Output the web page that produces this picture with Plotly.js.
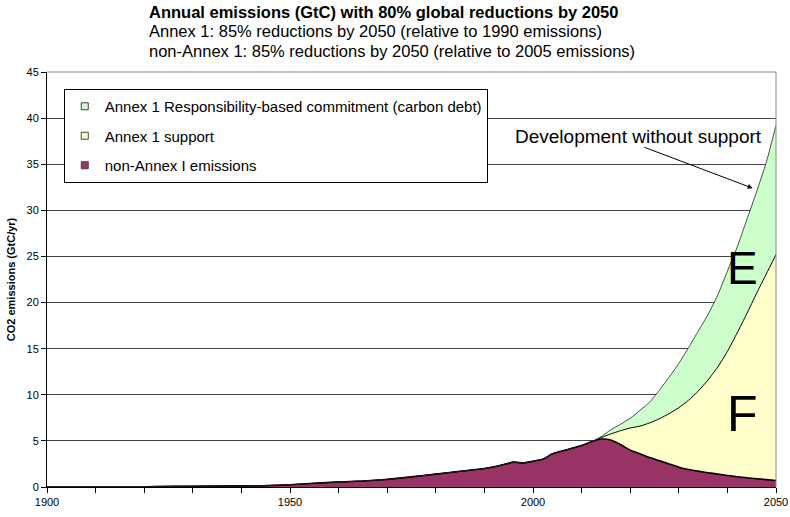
<!DOCTYPE html>
<html>
<head>
<meta charset="utf-8">
<script src="https://cdn.plot.ly/plotly-3.0.1.min.js"></script>
<style>
  html, body { margin: 0; padding: 0; background: #fff; }
  #chart { width: 790px; height: 517px; }
</style>
</head>
<body>
<div id="chart"></div>
<script>
// ---- data ----
const years = [1900,1920,1922,1930,1940,1945,1950,1955,1960,1965,1970,1975,1980,1985,1990,1993,1996,1998,2000,2002,2004,2006,2008,2010,
               2012,2014,2016,2018,2020,2022,2024,2026,2028,2030,2032,2034,2036,2038,2040,2042,2044,2046,2048,2050];
// non-Annex I emissions (GtC/yr)
const nonAnnex = [0,0,0.05,0.08,0.12,0.15,0.25,0.4,0.55,0.65,0.83,1.1,1.4,1.7,2.0,2.3,2.7,2.6,2.8,3.0,3.6,3.9,4.2,4.5,
                  4.9,5.2,5.1,4.6,4.0,3.6,3.2,2.85,2.5,2.15,1.9,1.72,1.55,1.4,1.25,1.12,1.0,0.9,0.8,0.7];
// Annex 1 support band (F)
const support = [0,0,0,0,0,0,0,0,0,0,0,0,0,0,0,0,0,0,0,0,0,0,0,0,
                 0,0.15,0.65,1.5,2.4,3.0,3.75,4.55,5.45,6.45,7.5,8.68,10.05,11.6,13.45,15.58,17.8,20.1,22.3,24.5];
// Annex 1 responsibility-based commitment band (E)
const commitment = [0,0,0,0,0,0,0,0,0,0,0,0,0,0,0,0,0,0,0,0,0,0,0,0,
                    0,0.1,0.45,0.7,1.05,1.7,2.25,3.1,3.95,4.8,5.7,6.5,7.1,7.8,8.7,9.3,10.2,11.0,12.1,14.0];

const seriesNames = ["non-Annex I emissions", "Annex 1 support", "Annex 1 Responsibility-based commitment (carbon debt)"];
const seriesColors = ["#993366", "#FFFFCC", "#CCFFCC"];
const legendRanks = [3, 2, 1];
const xTickVals = [1900,1910,1920,1930,1940,1950,1960,1970,1980,1990,2000,2010,2020,2030,2040,2050];
const xTickText = ["1900","","","","","1950","","","","","2000","","","","","2050"];

const titleLines = [
  "<b>Annual emissions (GtC) with 80% global reductions by 2050</b>",
  "Annex 1: 85% reductions by 2050 (relative to 1990 emissions)",
  "non-Annex 1: 85% reductions by 2050 (relative to 2005 emissions)"
];

const font = "Liberation Sans, Arial, sans-serif";
const lineWidths = [1.6, 1, 0.8];
const lineColors = ["#000", "#000", "#222"];
const vals = [nonAnnex, support, commitment];

const traces = [];
for (let i = 0; i < 3; i++) {
  traces.push({
    x: years, y: vals[i], type: "scatter", mode: "lines",
    stackgroup: "one", fillcolor: seriesColors[i],
    line: {color: lineColors[i], width: lineWidths[i], shape: "spline", smoothing: 0.5},
    showlegend: false, hoverinfo: "skip"
  });
}
// legend-only entries (small squares as in the original)
for (let i = 0; i < 3; i++) {
  traces.push({
    x: [null], y: [null], type: "scatter", mode: "markers",
    name: seriesNames[i], legendgroup: "g" + i, legendrank: legendRanks[i],
    marker: {symbol: "square", size: 7, color: seriesColors[i], line: {color: "#444", width: 1}}
  });
}

const annotations = titleLines.map((t, i) => ({
  text: t, xref: "paper", yref: "paper", x: 0.137, y: 1 + (60 - i * 19.5) / 415,
  xanchor: "left", yanchor: "middle", showarrow: false,
  font: {family: font, size: 16.5, color: "#000"}
}));
annotations.push({
  text: "Development without support", xref: "x", yref: "y", x: 2021.7, y: 38.0,
  xanchor: "center", yanchor: "middle", showarrow: false,
  font: {family: font, size: 19, color: "#000"}
});
annotations.push({
  text: "", xref: "x", yref: "y", x: 2045.2, y: 32.4, axref: "x", ayref: "y", ax: 2022.6, ay: 36.9,
  showarrow: true, arrowhead: 2, arrowsize: 1, arrowwidth: 1, arrowcolor: "#000"
});
annotations.push({
  text: "E", xref: "x", yref: "y", x: 2043.2, y: 23.75, showarrow: false,
  xanchor: "center", yanchor: "middle", font: {family: font, size: 46, color: "#000"}
});
annotations.push({
  text: "F", xref: "x", yref: "y", x: 2043.2, y: 7.9, showarrow: false,
  xanchor: "center", yanchor: "middle", font: {family: font, size: 50, color: "#000"}
});

const layout = {
  width: 790, height: 517,
  margin: {l: 47, r: 14, t: 72, b: 30},
  paper_bgcolor: "#fff", plot_bgcolor: "#fff",
  font: {family: font, size: 11, color: "#000"},
  showlegend: true,
  legend: {
    x: 0.023, y: 0.959, xanchor: "left", yanchor: "top",
    bgcolor: "#fff", bordercolor: "#000", borderwidth: 1,
    font: {family: font, size: 15, color: "#000"},
    traceorder: "grouped", tracegroupgap: 7
  },
  xaxis: {
    range: [1900, 2050], tickmode: "array", tickvals: xTickVals, ticktext: xTickText,
    ticks: "outside", ticklen: 5, tickcolor: "#000", showline: true, linecolor: "#000", linewidth: 1,
    showgrid: false, zeroline: false, tickfont: {family: font, size: 11, color: "#000"}, fixedrange: true
  },
  yaxis: {
    range: [0, 45], dtick: 5, ticks: "outside", ticklen: 5, tickcolor: "#000",
    showline: true, linecolor: "#000", linewidth: 1,
    showgrid: true, gridcolor: "#444", gridwidth: 1, zeroline: false,
    tickfont: {family: font, size: 11, color: "#000"},
    title: {text: "<b>CO2 emissions (GtC/yr)</b>", font: {family: font, size: 11, color: "#000"}, standoff: 8},
    fixedrange: true
  },
  shapes: [
    {type: "line", xref: "paper", yref: "paper", x0: 1, x1: 1, y0: 0, y1: 1, line: {color: "#888", width: 1}},
    {type: "line", xref: "paper", yref: "paper", x0: 0, x1: 1, y0: 1, y1: 1, line: {color: "#888", width: 1}}
  ],
  annotations: annotations
};

Plotly.newPlot("chart", traces, layout, {displayModeBar: false, staticPlot: true});
</script>
</body>
</html>
